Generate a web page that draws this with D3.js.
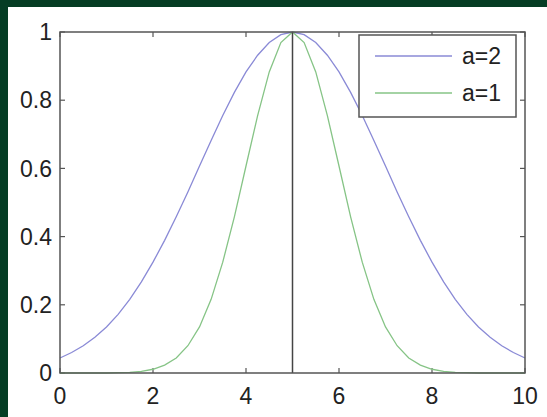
<!DOCTYPE html>
<html>
<head>
<meta charset="utf-8">
<script src="https://cdn.jsdelivr.net/npm/d3@7/dist/d3.min.js"></script>
<style>
  html, body { margin: 0; padding: 0; background: #ffffff; }
  svg { display: block; }
  text { font-family: "Liberation Sans", Arial, Helvetica, sans-serif; fill: #222; }
</style>
</head>
<body>
<svg id="chart" width="547" height="417"></svg>
<script>
// Sample positions along x
const xs = [0, 0.25, 0.5, 0.75, 1, 1.25, 1.5, 1.75, 2, 2.25, 2.5, 2.75, 3, 3.25, 3.5, 3.75, 4, 4.25, 4.5, 4.75,
            5, 5.25, 5.5, 5.75, 6, 6.25, 6.5, 6.75, 7, 7.25, 7.5, 7.75, 8, 8.25, 8.5, 8.75, 9, 9.25, 9.5, 9.75, 10];

// Curve with a=2
const wideValues = [0.044, 0.060, 0.080, 0.105, 0.135, 0.172, 0.216, 0.267, 0.325, 0.389, 0.458, 0.531, 0.607, 0.682, 0.755, 0.823, 0.883, 0.932, 0.969, 0.992,
                    1.000, 0.992, 0.969, 0.932, 0.883, 0.823, 0.755, 0.682, 0.607, 0.531, 0.458, 0.389, 0.325, 0.267, 0.216, 0.172, 0.135, 0.105, 0.080, 0.060, 0.044];

// Curve with a=1
const narrowValues = [0.000, 0.000, 0.000, 0.000, 0.000, 0.001, 0.002, 0.005, 0.011, 0.023, 0.044, 0.080, 0.135, 0.216, 0.325, 0.458, 0.607, 0.755, 0.883, 0.969,
                      1.000, 0.969, 0.883, 0.755, 0.607, 0.458, 0.325, 0.216, 0.135, 0.080, 0.044, 0.023, 0.011, 0.005, 0.002, 0.001, 0.000, 0.000, 0.000, 0.000, 0.000];

const xTicks = [0, 2, 4, 6, 8, 10];
const yTicks = [0, 0.2, 0.4, 0.6, 0.8, 1];
const yTickLabels = ["0", "0.2", "0.4", "0.6", "0.8", "1"];
const seriesNames = ["a=2", "a=1"];
const seriesColors = ["#8a8ad6", "#86c486"];
const centerLine = [5, 0, 1]; // x, from y, to y

const svg = d3.select("#chart");
const W = 547, H = 417;

// frame: dark green band on the top and left
svg.append("rect").attr("x", 0).attr("y", 0).attr("width", W).attr("height", H).attr("fill", "#ffffff");
svg.append("rect").attr("x", 0).attr("y", 0).attr("width", W).attr("height", 7).attr("fill", "#053d24");
svg.append("rect").attr("x", 0).attr("y", 0).attr("width", 8).attr("height", H).attr("fill", "#053d24");

const plotL = 60, plotR = 525, plotT = 32, plotB = 373;
const x = d3.scaleLinear().domain([0, 10]).range([plotL, plotR]);
const y = d3.scaleLinear().domain([0, 1]).range([plotB, plotT]);

const axisColor = "#555";
const tickLen = 5;
const fontSize = 23;

// ticks on all four sides, pointing inward
const g = svg.append("g");
xTicks.forEach(t => {
  g.append("line").attr("x1", x(t)).attr("x2", x(t)).attr("y1", plotB).attr("y2", plotB - tickLen)
    .attr("stroke", axisColor).attr("stroke-width", 1.2);
  g.append("line").attr("x1", x(t)).attr("x2", x(t)).attr("y1", plotT).attr("y2", plotT + tickLen)
    .attr("stroke", axisColor).attr("stroke-width", 1.2);
  g.append("text").attr("x", x(t)).attr("y", 404).attr("text-anchor", "middle")
    .attr("font-size", fontSize).text(t);
});
yTicks.forEach((t, i) => {
  g.append("line").attr("x1", plotL).attr("x2", plotL + tickLen).attr("y1", y(t)).attr("y2", y(t))
    .attr("stroke", axisColor).attr("stroke-width", 1.2);
  g.append("line").attr("x1", plotR).attr("x2", plotR - tickLen).attr("y1", y(t)).attr("y2", y(t))
    .attr("stroke", axisColor).attr("stroke-width", 1.2);
  g.append("text").attr("x", 52).attr("y", y(t)).attr("dy", "0.36em").attr("text-anchor", "end")
    .attr("font-size", fontSize).text(yTickLabels[i]);
});

// curves
const line = d3.line().x((d, i) => x(xs[i])).y(d => y(d));
[wideValues, narrowValues].forEach((vals, k) => {
  svg.append("path").datum(vals).attr("d", line).attr("fill", "none")
    .attr("stroke", seriesColors[k]).attr("stroke-width", 1.3);
});

// vertical marker at the centre
svg.append("line").attr("x1", x(centerLine[0])).attr("x2", x(centerLine[0]))
  .attr("y1", y(centerLine[1])).attr("y2", y(centerLine[2]))
  .attr("stroke", "#444").attr("stroke-width", 1.5);

// plot box
svg.append("rect").attr("x", plotL).attr("y", plotT).attr("width", plotR - plotL).attr("height", plotB - plotT)
  .attr("fill", "none").attr("stroke", axisColor).attr("stroke-width", 1.5);

// legend
const lg = svg.append("g");
lg.append("rect").attr("x", 359).attr("y", 35).attr("width", 157).attr("height", 82)
  .attr("fill", "#ffffff").attr("stroke", axisColor).attr("stroke-width", 1.5);
seriesNames.forEach((name, k) => {
  const ly = 56 + k * 37;
  lg.append("line").attr("x1", 375).attr("x2", 452).attr("y1", ly).attr("y2", ly)
    .attr("stroke", seriesColors[k]).attr("stroke-width", 1.5);
  lg.append("text").attr("x", 462).attr("y", ly).attr("dy", "0.36em").attr("font-size", fontSize).text(name);
});
</script>
</body>
</html>
